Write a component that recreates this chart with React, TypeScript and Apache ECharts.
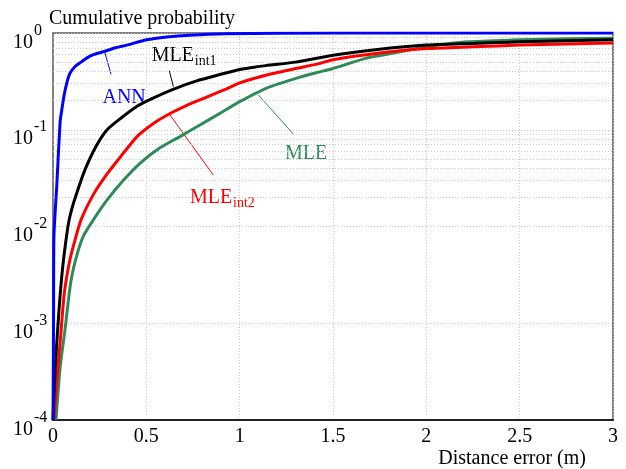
import React, { useEffect, useRef } from "react";
import * as echarts from "echarts";

// ---- data (distance error in m, cumulative probability) ----
const annX = [0, 0.003, 0.005, 0.02, 0.038, 0.047, 0.06, 0.073, 0.09, 0.118, 0.15, 0.18, 0.22, 0.27, 0.33, 0.395, 0.5, 0.61, 0.73, 0.93, 1.2, 1.85, 3.0];
const annY = [1e-4, 1.1e-3, 0.008, 0.026, 0.12, 0.16, 0.23, 0.3, 0.38, 0.45, 0.5, 0.55, 0.6, 0.64, 0.7, 0.75, 0.85, 0.91, 0.95, 0.985, 0.993, 1.0, 1.0];

const int1X = [0, 0.01, 0.03, 0.05, 0.08, 0.1, 0.13, 0.17, 0.23, 0.29, 0.36, 0.45, 0.53, 0.65, 0.77, 0.89, 1.0, 1.14, 1.3, 1.5, 1.75, 2.0, 2.25, 2.5, 2.75, 3.0];
const int1Y = [1e-4, 3e-4, 1.2e-3, 3.5e-3, 0.01, 0.015, 0.023, 0.038, 0.067, 0.1, 0.13, 0.175, 0.21, 0.265, 0.32, 0.37, 0.42, 0.46, 0.5, 0.59, 0.68, 0.75, 0.78, 0.81, 0.83, 0.85];

const int2X = [0.005, 0.02, 0.04, 0.06, 0.087, 0.114, 0.15, 0.22, 0.29, 0.36, 0.45, 0.54, 0.63, 0.72, 0.83, 0.93, 1.0, 1.15, 1.3, 1.42, 1.5, 1.75, 2.0, 2.25, 2.5, 2.75, 3.0];
const int2Y = [1e-4, 2.5e-4, 7e-4, 2e-3, 4.2e-3, 6.8e-3, 0.0117, 0.022, 0.035, 0.052, 0.085, 0.117, 0.148, 0.18, 0.22, 0.265, 0.305, 0.37, 0.43, 0.48, 0.53, 0.62, 0.69, 0.72, 0.75, 0.77, 0.79];

const mleX = [0.016, 0.038, 0.064, 0.085, 0.1, 0.127, 0.162, 0.216, 0.288, 0.377, 0.466, 0.573, 0.68, 0.787, 0.895, 1.0, 1.145, 1.323, 1.413, 1.5, 1.68, 1.86, 2.0, 2.22, 2.5, 2.75, 3.0];
const mleY = [1e-4, 3.5e-4, 8.5e-4, 1.9e-3, 3e-3, 5e-3, 7.9e-3, 0.0117, 0.0186, 0.03, 0.045, 0.065, 0.085, 0.112, 0.148, 0.195, 0.27, 0.35, 0.39, 0.43, 0.55, 0.64, 0.72, 0.81, 0.85, 0.87, 0.88];

const xTicks = [0, 0.5, 1, 1.5, 2, 2.5, 3];
const decades = [1e-4, 1e-3, 1e-2, 1e-1, 1];
const minorMultipliers = [2, 3, 4, 5, 6, 7, 8, 9];

const FONT = '"Liberation Serif", "Times New Roman", serif';
const BLUE = "#0000ff";
const BLACK = "#000000";
const RED = "#ff0000";
const GREEN = "#2e8b57";

const pairs = (xs: number[], ys: number[]) => xs.map((x, i) => [x, ys[i]]);

// annotations anchored in data coordinates
const labels = [
  { main: "ANN", sub: "", color: BLUE, at: [0.265, 0.221], line: [[0.275, 0.656], [0.311, 0.374]] },
  { main: "MLE", sub: "int1", color: BLACK, at: [0.529, 0.6], line: [[0.623, 0.408], [0.645, 0.279]] },
  { main: "MLE", sub: "int2", color: RED, at: [0.734, 0.0207], line: [[0.627, 0.142], [0.859, 0.034]] },
  { main: "MLE", sub: "", color: GREEN, at: [1.243, 0.0582], line: [[1.1, 0.229], [1.287, 0.0904]] },
];

export default function App() {
  const ref = useRef<HTMLDivElement>(null);
  useEffect(() => {
    const chart = echarts.init(ref.current!, null, { renderer: "svg" });
    const minorLines: any[] = [];
    decades.slice(0, 4).forEach((d) => minorMultipliers.forEach((m) => minorLines.push({ yAxis: d * m })));
    const gridStyle = { color: "#c8c8c8", width: 1, type: [1, 2] as any };
    const option: any = {
      animation: false,
      grid: { left: 53, right: 13, top: 33, bottom: 49, show: true, borderColor: "#808080", borderWidth: 2, backgroundColor: "transparent" },
      xAxis: {
        type: "value",
        min: 0,
        max: 3,
        interval: 0.5,
        axisLine: { show: true, lineStyle: { color: "#222", width: 2 } },
        axisTick: { show: false },
        splitLine: { show: true, lineStyle: gridStyle },
        axisLabel: {
          margin: 5,
          color: "#000",
          fontSize: 20,
          fontFamily: FONT,
          formatter: (v: number) => (xTicks.includes(v) ? String(v) : ""),
        },
      },
      yAxis: {
        type: "log",
        logBase: 10,
        min: 1e-4,
        max: 1,
        axisLine: { show: true, onZero: false, lineStyle: { color: "#808080", width: 2 } },
        axisTick: { show: false },
        splitLine: { show: true, lineStyle: gridStyle },
        axisLabel: {
          align: "left",
          verticalAlign: "middle",
          margin: 40,
          padding: [4, 0, 0, 0],
          color: "#000",
          formatter: (v: number) => `{b|10}{s|${Math.round(Math.log10(v))}}`,
          rich: {
            b: { fontSize: 20, fontFamily: FONT, color: "#000", lineHeight: 20, verticalAlign: "middle", padding: [11, 0, 0, 0] },
            s: { fontSize: 16, fontFamily: FONT, color: "#000", lineHeight: 16, verticalAlign: "middle", padding: [0, 0, 12, 1] },
          },
        },
      },
      series: [
        {
          name: "MLE",
          type: "line",
          data: pairs(mleX, mleY),
          showSymbol: false,
          smooth: 0.2,
          lineStyle: { color: GREEN, width: 3 },
          itemStyle: { color: GREEN },
          markLine: {
            silent: true,
            symbol: ["none", "none"],
            label: { show: false },
            lineStyle: gridStyle,
            data: minorLines,
            z: 1,
          },
        },
        { name: "MLE_int2", type: "line", data: pairs(int2X, int2Y), showSymbol: false, smooth: 0.2, lineStyle: { color: RED, width: 3 }, itemStyle: { color: RED } },
        { name: "MLE_int1", type: "line", data: pairs(int1X, int1Y), showSymbol: false, smooth: 0.2, lineStyle: { color: BLACK, width: 3 }, itemStyle: { color: BLACK } },
        { name: "ANN", type: "line", data: pairs(annX, annY), showSymbol: false, smooth: 0.2, lineStyle: { color: BLUE, width: 3 }, itemStyle: { color: BLUE } },
      ],
    };
    chart.setOption(option);

    const px = (p: number[]) => chart.convertToPixel({ gridIndex: 0 }, p) as number[];
    const graphic: any[] = [
      {
        type: "text",
        x: 49,
        y: 17,
        style: { text: "Cumulative probability", font: `20px ${FONT}`, fill: "#000", textAlign: "left", textVerticalAlign: "middle", align: "left", verticalAlign: "middle" },
      },
      {
        type: "text",
        x: 586,
        y: 457,
        style: { text: "Distance error (m)", font: `20px ${FONT}`, fill: "#000", textAlign: "right", textVerticalAlign: "middle", align: "right", verticalAlign: "middle" },
      },
    ];
    labels.forEach((l) => {
      const a = px(l.line[0]);
      const b = px(l.line[1]);
      graphic.push({ type: "line", shape: { x1: a[0], y1: a[1], x2: b[0], y2: b[1] }, style: { stroke: l.color, lineWidth: 1 } });
      const t = px(l.at);
      graphic.push({
        type: "text",
        x: t[0],
        y: t[1],
        style: { text: l.main, font: `20px ${FONT}`, fill: l.color, textAlign: "left", textVerticalAlign: "middle", align: "left", verticalAlign: "middle" },
      });
      if (l.sub) {
        graphic.push({
          type: "text",
          x: t[0] + 43,
          y: t[1] + 6.5,
          style: { text: l.sub, font: `14px ${FONT}`, fill: l.color, textAlign: "left", textVerticalAlign: "middle", align: "left", verticalAlign: "middle" },
        });
      }
    });
    chart.setOption({ graphic });
    return () => chart.dispose();
  }, []);
  return <div ref={ref} style={{ position: "fixed", left: 0, top: 0, width: 626, height: 469 }} />;
}
